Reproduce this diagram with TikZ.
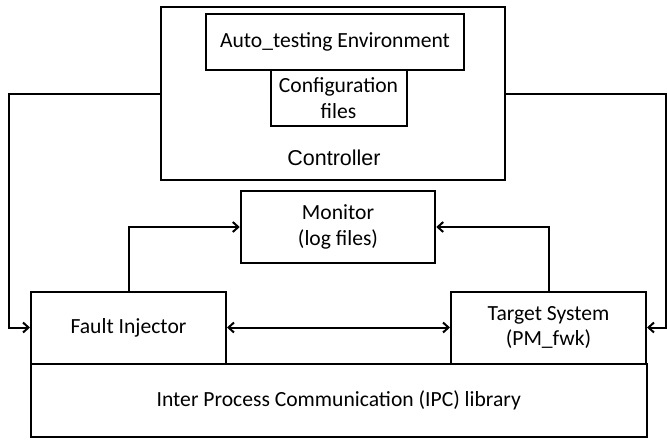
\documentclass[tikz,border=0pt]{standalone}
\usepackage{fontspec}
\setmainfont{Carlito}
\newfontfamily\arialfont{Liberation Sans}
\usetikzlibrary{arrows.meta}
\begin{document}
\begin{tikzpicture}[x=1pt,y=-1pt,
  box/.style={draw,line width=2pt,inner sep=0pt,align=center,
    font=\fontsize{21.6}{25.5}\selectfont},
  barb/.tip={Straight Barb[length=5.5pt,width=10pt]},
  link/.style={line width=2pt,-barb},
  dlink/.style={line width=2pt,barb-barb}]
\useasboundingbox (0,0) rectangle (667,442);
% controller block with its two inner boxes
\node[box,minimum width=344pt,minimum height=173pt] (ctrl) at (333,93.5) {};
\node[font=\arialfont\fontsize{21.5}{24}\selectfont] (ctrllbl) at (334,158) {Controller};
\node[box,minimum width=258pt,minimum height=56pt] (auto) at (335,42) {Auto\_testing Environment};
\node[box,minimum width=136pt,minimum height=56pt] (conf) at (338.5,98) {Configuration\\files};
% monitor
\node[box,minimum width=194.5pt,minimum height=72pt] (mon) at (338,227) {Monitor\\(log files)};
% injector, target and IPC library
\node[box,minimum width=195pt,minimum height=72pt] (fault) at (128.5,327.5) {Fault Injector};
\node[box,minimum width=195pt,minimum height=72pt] (target) at (548.5,327.5) {Target System\\(PM\_fwk)};
\node[box,minimum width=615.5pt,minimum height=73.5pt] (ipc) at (338.75,400.25) {Inter Process Communication (IPC) library};
% control lines from the controller
\coordinate (lbus) at (9,93.5);
\coordinate (rbus) at (665.5,93.5);
\draw[link] (ctrl.west) -- (lbus) |- (fault.west);
\draw[link] (ctrl.east) -- (rbus) |- (target.east);
% logging lines into the monitor
\draw[link] (fault.north) |- (mon.west);
\draw[link] (target.north) |- (mon.east);
% injector <-> target
\draw[dlink] (fault.east) -- (target.west);
\end{tikzpicture}
\end{document}
